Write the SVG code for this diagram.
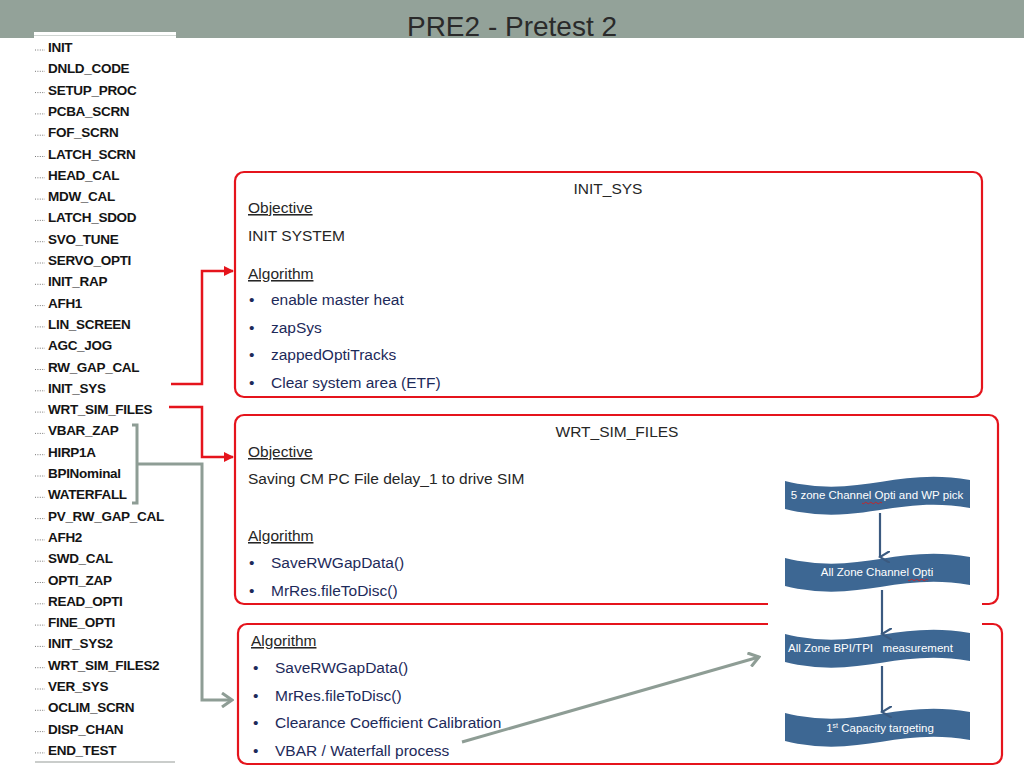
<svg xmlns="http://www.w3.org/2000/svg" width="1024" height="767" viewBox="0 0 1024 767">
<style>
.li{font-family:"Liberation Sans",Arial,sans-serif;font-weight:bold;font-size:13.5px;letter-spacing:-0.3px;fill:#141414}
.dot{stroke:#777;stroke-width:1;stroke-dasharray:1 1.4}
.box{fill:none;stroke:#e5141c;stroke-width:2.2}
.t{font-family:"Liberation Sans",Arial,sans-serif;font-size:15.5px;fill:#262626}
.ul{text-decoration:underline}
.b{font-family:"Liberation Sans",Arial,sans-serif;font-size:15.5px;fill:#1d2a5a}
.red{fill:none;stroke:#e5141c;stroke-width:2.5}
.gray{fill:none;stroke:#8e9d95;stroke-width:3}
.fs{fill:#3d6793}
.ft{font-family:"Liberation Sans",Arial,sans-serif;font-size:11.5px;fill:#ffffff}
.fa{stroke:#3b5a80;stroke-width:2.2;fill:none}
.sq{fill:none;stroke:#d02020;stroke-width:0.9}
</style>
<defs>
<marker id="ra" markerWidth="10" markerHeight="10" refX="9" refY="5" orient="auto" markerUnits="userSpaceOnUse">
<path d="M0,0 L10,5 L0,10 Z" fill="#e5141c"/>
</marker>
<marker id="ga" markerWidth="14" markerHeight="16" refX="12" refY="8" orient="auto" markerUnits="userSpaceOnUse">
<path d="M2,1 L12,8 L2,15" fill="none" stroke="#8e9d95" stroke-width="3"/>
</marker>
<marker id="ba" markerWidth="12" markerHeight="12" refX="6" refY="10" orient="auto" markerUnits="userSpaceOnUse">
<path d="M0,0 L6,10 L12,0" fill="none" stroke="#3b5a80" stroke-width="2.2"/>
</marker>
<path id="tape" d="M0,0 C74,18 111,-14 185,-1 L185,27 C111,14 74,46 0,28 Z"/>
</defs>
<rect width="1024" height="767" fill="#ffffff"/>
<rect x="0" y="0" width="1024" height="38" fill="#93a299"/>
<text x="512" y="36" text-anchor="middle" font-family="'Liberation Sans',Arial,sans-serif" font-size="28" fill="#2a2a2a">PRE2 - Pretest 2</text>
<g id="list">
<rect x="34" y="32" width="142" height="8" fill="#ffffff"/>
<line x1="34" y1="35.5" x2="176" y2="35.5" stroke="#cfd5d2" stroke-width="1.2"/>
<line x1="35" y1="762" x2="175" y2="762" stroke="#b8bdba" stroke-width="1.5"/>
<g class="dots">
<line class="dot" x1="35" y1="50" x2="45" y2="50"/><line class="dot" x1="35" y1="71.3" x2="45" y2="71.3"/><line class="dot" x1="35" y1="92.6" x2="45" y2="92.6"/><line class="dot" x1="35" y1="113.9" x2="45" y2="113.9"/><line class="dot" x1="35" y1="135.2" x2="45" y2="135.2"/><line class="dot" x1="35" y1="156.5" x2="45" y2="156.5"/><line class="dot" x1="35" y1="177.8" x2="45" y2="177.8"/><line class="dot" x1="35" y1="199.1" x2="45" y2="199.1"/><line class="dot" x1="35" y1="220.4" x2="45" y2="220.4"/><line class="dot" x1="35" y1="241.7" x2="45" y2="241.7"/><line class="dot" x1="35" y1="263" x2="45" y2="263"/><line class="dot" x1="35" y1="284.3" x2="45" y2="284.3"/><line class="dot" x1="35" y1="305.6" x2="45" y2="305.6"/><line class="dot" x1="35" y1="326.9" x2="45" y2="326.9"/><line class="dot" x1="35" y1="348.2" x2="45" y2="348.2"/><line class="dot" x1="35" y1="369.5" x2="45" y2="369.5"/><line class="dot" x1="35" y1="390.8" x2="45" y2="390.8"/><line class="dot" x1="35" y1="412.1" x2="45" y2="412.1"/><line class="dot" x1="35" y1="433.4" x2="45" y2="433.4"/><line class="dot" x1="35" y1="454.7" x2="45" y2="454.7"/><line class="dot" x1="35" y1="476" x2="45" y2="476"/><line class="dot" x1="35" y1="497.3" x2="45" y2="497.3"/><line class="dot" x1="35" y1="518.6" x2="45" y2="518.6"/><line class="dot" x1="35" y1="539.9" x2="45" y2="539.9"/><line class="dot" x1="35" y1="561.2" x2="45" y2="561.2"/><line class="dot" x1="35" y1="582.5" x2="45" y2="582.5"/><line class="dot" x1="35" y1="603.8" x2="45" y2="603.8"/><line class="dot" x1="35" y1="625.1" x2="45" y2="625.1"/><line class="dot" x1="35" y1="646.4" x2="45" y2="646.4"/><line class="dot" x1="35" y1="667.7" x2="45" y2="667.7"/><line class="dot" x1="35" y1="689" x2="45" y2="689"/><line class="dot" x1="35" y1="710.3" x2="45" y2="710.3"/><line class="dot" x1="35" y1="731.6" x2="45" y2="731.6"/><line class="dot" x1="35" y1="752.9" x2="45" y2="752.9"/>
</g>
<text class="li" x="48" y="52">INIT</text>
<text class="li" x="48" y="73.3">DNLD_CODE</text>
<text class="li" x="48" y="94.6">SETUP_PROC</text>
<text class="li" x="48" y="115.9">PCBA_SCRN</text>
<text class="li" x="48" y="137.2">FOF_SCRN</text>
<text class="li" x="48" y="158.5">LATCH_SCRN</text>
<text class="li" x="48" y="179.8">HEAD_CAL</text>
<text class="li" x="48" y="201.1">MDW_CAL</text>
<text class="li" x="48" y="222.4">LATCH_SDOD</text>
<text class="li" x="48" y="243.7">SVO_TUNE</text>
<text class="li" x="48" y="265">SERVO_OPTI</text>
<text class="li" x="48" y="286.3">INIT_RAP</text>
<text class="li" x="48" y="307.6">AFH1</text>
<text class="li" x="48" y="328.9">LIN_SCREEN</text>
<text class="li" x="48" y="350.2">AGC_JOG</text>
<text class="li" x="48" y="371.5">RW_GAP_CAL</text>
<text class="li" x="48" y="392.8">INIT_SYS</text>
<text class="li" x="48" y="414.1">WRT_SIM_FILES</text>
<text class="li" x="48" y="435.4">VBAR_ZAP</text>
<text class="li" x="48" y="456.7">HIRP1A</text>
<text class="li" x="48" y="478">BPINominal</text>
<text class="li" x="48" y="499.3">WATERFALL</text>
<text class="li" x="48" y="520.6">PV_RW_GAP_CAL</text>
<text class="li" x="48" y="541.9">AFH2</text>
<text class="li" x="48" y="563.2">SWD_CAL</text>
<text class="li" x="48" y="584.5">OPTI_ZAP</text>
<text class="li" x="48" y="605.8">READ_OPTI</text>
<text class="li" x="48" y="627.1">FINE_OPTI</text>
<text class="li" x="48" y="648.4">INIT_SYS2</text>
<text class="li" x="48" y="669.7">WRT_SIM_FILES2</text>
<text class="li" x="48" y="691">VER_SYS</text>
<text class="li" x="48" y="712.3">OCLIM_SCRN</text>
<text class="li" x="48" y="733.6">DISP_CHAN</text>
<text class="li" x="48" y="754.9">END_TEST</text>
</g>
<g id="init_sys">
<rect class="box" x="235" y="172" width="747" height="225" rx="9"/>
<text class="t" x="608" y="194" text-anchor="middle">INIT_SYS</text>
<text class="t ul" x="248" y="213">Objective</text>
<text class="t" x="248" y="241">INIT SYSTEM</text>
<text class="t ul" x="248" y="279">Algorithm</text>
<text class="b" x="249" y="305">•</text><text class="b" x="271" y="305">enable master heat</text>
<text class="b" x="249" y="333">•</text><text class="b" x="271" y="333">zapSys</text>
<text class="b" x="249" y="360">•</text><text class="b" x="271" y="360">zappedOptiTracks</text>
<text class="b" x="249" y="388">•</text><text class="b" x="271" y="388">Clear system area (ETF)</text>
</g>
<g id="wrt_sim_files">
<rect class="box" x="235" y="415" width="763" height="189" rx="9"/>
<text class="t" x="617" y="437" text-anchor="middle">WRT_SIM_FILES</text>
<text class="t ul" x="248" y="457">Objective</text>
<text class="t" x="248" y="484">Saving CM PC File delay_1 to drive SIM</text>
<text class="t ul" x="248" y="541">Algorithm</text>
<text class="b" x="249" y="568">•</text><text class="b" x="271" y="568">SaveRWGapData()</text>
<text class="b" x="249" y="596">•</text><text class="b" x="271" y="596">MrRes.fileToDisc()</text>
</g>
<g id="algorithm2">
<rect class="box" x="238" y="624" width="764" height="140" rx="9"/>
<text class="t ul" x="251" y="646">Algorithm</text>
<text class="b" x="253" y="673">•</text><text class="b" x="275" y="673">SaveRWGapData()</text>
<text class="b" x="253" y="701">•</text><text class="b" x="275" y="701">MrRes.fileToDisc()</text>
<text class="b" x="253" y="728">•</text><text class="b" x="275" y="728">Clearance Coefficient Calibration</text>
<text class="b" x="253" y="756">•</text><text class="b" x="275" y="756">VBAR / Waterfall process</text>
</g>
<g id="flowchart">
<rect x="768" y="470" width="214" height="282" fill="#ffffff"/>
<g id="fc1"><use href="#tape" class="fs" transform="translate(785,481)"/>
<text class="ft" x="877" y="499" text-anchor="middle">5 zone Channel Opti and WP pick</text>
<path class="sq" d="M862,503 q1.25,1.5 2.5,0 t2.5,0 t2.5,0 t2.5,0 t2.5,0 t2.5,0 t2.5,0 t2.5,0"/></g>
<g id="fc2"><use href="#tape" class="fs" transform="translate(785,558)"/>
<text class="ft" x="877" y="576" text-anchor="middle">All Zone Channel Opti</text>
<path class="sq" d="M908,580 q1.25,1.5 2.5,0 t2.5,0 t2.5,0 t2.5,0 t2.5,0 t2.5,0 t2.5,0 t2.5,0"/></g>
<g id="fc3"><use href="#tape" class="fs" transform="translate(785,634)"/>
<text class="ft" x="788" y="652" xml:space="preserve">All Zone BPI/TPI   measurement</text></g>
<g id="fc4"><use href="#tape" class="fs" transform="translate(785,713)"/>
<text class="ft" x="880" y="732" text-anchor="middle">1<tspan font-size="7" dy="-4">st</tspan><tspan dy="4"> Capacity targeting</tspan></text></g>
</g>
<g id="connectors">
<path class="red" d="M171,384 H202 V271 H233" marker-end="url(#ra)"/>
<path class="red" d="M169,407 H202 V457 H233" marker-end="url(#ra)"/>
<path class="gray" d="M132,425 H137 V503 H132 M137,464 H202 V700 H232" marker-end="url(#ga)"/>
<path class="gray" d="M462,742 L759,657" marker-end="url(#ga)"/>
<path class="fa" d="M880,513 V557" marker-end="url(#ba)"/>
<path class="fa" d="M882,590 V634" marker-end="url(#ba)"/>
<path class="fa" d="M882,666 V712" marker-end="url(#ba)"/>
</g>
</svg>
